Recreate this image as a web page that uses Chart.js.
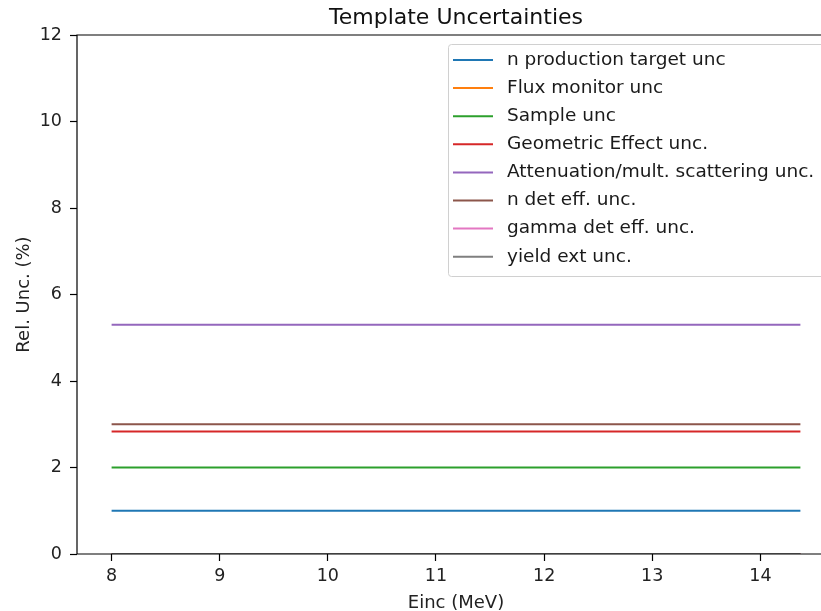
<!DOCTYPE html>
<html>
<head>
<meta charset="utf-8">
<script src="https://cdn.jsdelivr.net/npm/chart.js@4.4.0/dist/chart.umd.min.js"></script>
<style>
  html, body { margin: 0; padding: 0; background: #fff; overflow: hidden; }
  #wrap { width: 860px; height: 611px; }
</style>
</head>
<body>
<div id="wrap"><canvas id="chart" width="860" height="611"></canvas></div>
<script>
// Incertitudes du template (valeurs relatives en %)
const energies = [8, 9, 10, 11, 12, 13, 14, 14.37];
const xTicks = [8, 9, 10, 11, 12, 13, 14];
const yTicks = [0, 2, 4, 6, 8, 10, 12];

const labels = [
  'n production target unc',
  'Flux monitor unc',
  'Sample unc',
  'Geometric Effect unc.',
  'Attenuation/mult. scattering unc.',
  'n det eff. unc.',
  'gamma det eff. unc.',
  'yield ext unc.'
];
const colors = ['#1f77b4', '#ff7f0e', '#2ca02c', '#d62728', '#9467bd', '#8c564b', '#e377c2', '#7f7f7f'];

const nProdTarget = [1.0, 1.0, 1.0, 1.0, 1.0, 1.0, 1.0, 1.0];
const fluxMonitor = [0, 0, 0, 0, 0, 0, 0, 0];
const sample = [2.0, 2.0, 2.0, 2.0, 2.0, 2.0, 2.0, 2.0];
const geometric = [2.83, 2.83, 2.83, 2.83, 2.83, 2.83, 2.83, 2.83];
const attenuation = [5.3, 5.3, 5.3, 5.3, 5.3, 5.3, 5.3, 5.3];
const nDetEff = [3.0, 3.0, 3.0, 3.0, 3.0, 3.0, 3.0, 3.0];
const gammaDetEff = [0, 0, 0, 0, 0, 0, 0, 0];
const yieldExt = [0, 0, 0, 0, 0, 0, 0, 0];

const series = [nProdTarget, fluxMonitor, sample, geometric, attenuation, nDetEff, gammaDetEff, yieldExt];

const FONT = 'DejaVu Sans';

const datasets = series.map((vals, i) => ({
  label: labels[i],
  data: vals.map((v, j) => ({ x: energies[j], y: v })),
  borderColor: colors[i],
  backgroundColor: colors[i],
  borderWidth: 2,
  pointRadius: 0,
  tension: 0,
  order: series.length - i
}));

// cadre + titre + légende façon matplotlib
const mplDecor = {
  id: 'mplDecor',
  afterDraw(chart) {
    const ctx = chart.ctx;
    const a = chart.chartArea;
    ctx.save();
    ctx.strokeStyle = '#000';
    ctx.lineWidth = 1.2;
    ctx.beginPath();
    ctx.moveTo(a.left, a.bottom);
    ctx.lineTo(a.left, a.top);
    ctx.lineTo(a.right, a.top);
    ctx.lineTo(a.right, a.bottom);
    ctx.lineTo(a.left, a.bottom);
    ctx.stroke();

    // titre
    ctx.fillStyle = '#111';
    ctx.font = '22px ' + FONT;
    ctx.textAlign = 'center';
    ctx.textBaseline = 'alphabetic';
    ctx.fillText('Template Uncertainties', (a.left + a.right) / 2, 24);

    // légende
    const lx = 448, ly = 44, lw = 382, lh = 232;
    ctx.fillStyle = 'rgba(255,255,255,0.8)';
    ctx.strokeStyle = '#d0d0d0';
    ctx.lineWidth = 1;
    ctx.beginPath();
    ctx.roundRect(lx + 0.5, ly + 0.5, lw, lh, 3);
    ctx.fill();
    ctx.stroke();
    ctx.font = '18.5px ' + FONT;
    ctx.textAlign = 'left';
    ctx.textBaseline = 'middle';
    chart.data.datasets.forEach((ds, i) => {
      const y = 60 + i * 28.1;
      ctx.strokeStyle = ds.borderColor;
      ctx.lineWidth = 2;
      ctx.beginPath();
      ctx.moveTo(453, y);
      ctx.lineTo(493, y);
      ctx.stroke();
      ctx.fillStyle = '#1a1a1a';
      ctx.fillText(ds.label, 507, y);
    });
    ctx.restore();
  }
};

new Chart(document.getElementById('chart'), {
  type: 'line',
  data: { datasets: datasets },
  options: {
    responsive: false,
    animation: false,
    layout: { padding: { top: 35, right: 25, left: 0, bottom: 0 } },
    plugins: { legend: { display: false }, tooltip: { enabled: false } },
    scales: {
      x: {
        type: 'linear',
        min: 7.68,
        max: 14.69,
        afterBuildTicks: (scale) => { scale.ticks = xTicks.map(v => ({ value: v })); },
        afterFit: (scale) => { scale.height = 57; },
        grid: { drawOnChartArea: false, drawTicks: true, tickLength: 7, tickColor: '#000', tickWidth: 1.2 },
        border: { display: false },
        ticks: { color: '#222', font: { family: FONT, size: 17.5 }, padding: 5, maxRotation: 0 },
        title: { display: true, text: 'Einc (MeV)', color: '#222', font: { family: FONT, size: 18, lineHeight: 0.85 }, padding: { top: 0, bottom: 0 } }
      },
      y: {
        min: 0,
        max: 12,
        afterBuildTicks: (scale) => { scale.ticks = yTicks.map(v => ({ value: v })); },
        afterFit: (scale) => { scale.width = 77; },
        grid: { drawOnChartArea: false, drawTicks: true, tickLength: 7, tickColor: '#000', tickWidth: 1.2 },
        border: { display: false },
        ticks: { color: '#222', font: { family: FONT, size: 17.5 }, padding: 8 },
        title: { display: true, text: 'Rel. Unc. (%)', color: '#222', font: { family: FONT, size: 18 }, padding: { top: 14, bottom: 0 } }
      }
    }
  },
  plugins: [mplDecor]
});
</script>
</body>
</html>
